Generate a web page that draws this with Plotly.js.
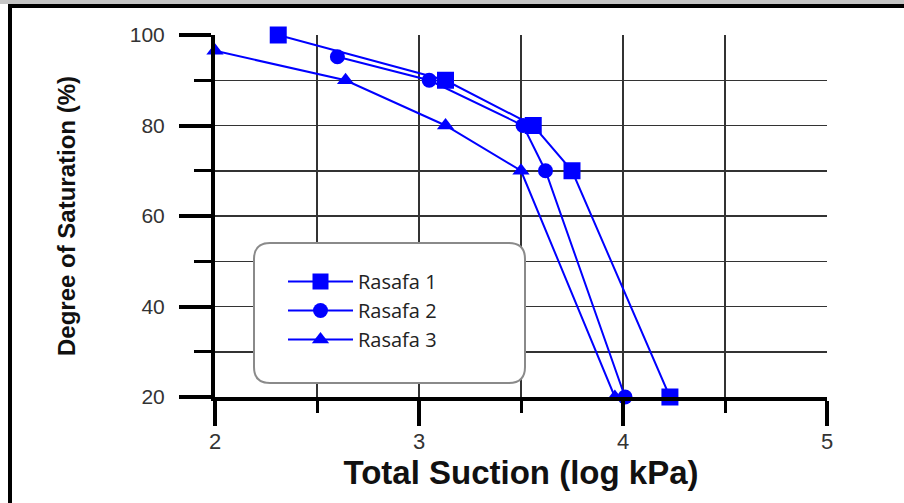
<!DOCTYPE html>
<html>
<head>
<meta charset="utf-8">
<script src="https://cdn.plot.ly/plotly-3.0.1.min.js"></script>
<style>
  html, body { margin: 0; padding: 0; background: #ffffff; }
  #chart { width: 904px; height: 503px; }
</style>
</head>
<body>
<div id="chart"></div>
<script>
// ---- data ----
const seriesNames = ["Rasafa 1", "Rasafa 2", "Rasafa 3"];
const suction1 = [2.31, 3.13, 3.56, 3.75, 4.23];
const saturation1 = [100, 90, 80, 70, 20];
const suction2 = [2.60, 3.05, 3.51, 3.62, 4.01];
const saturation2 = [95.2, 90, 80, 70, 20];
const suction3 = [2.00, 2.64, 3.13, 3.50, 3.96];
const saturation3 = [96.5, 90, 80, 70, 20];
const xTickVals = [2, 3, 4, 5];
const yTickVals = [20, 40, 60, 80, 100];

// ---- layout geometry (pixels) ----
const W = 904, H = 503;
const M = { l: 215, r: 77, t: 35, b: 106 };
const PW = W - M.l - M.r, PH = H - M.t - M.b;
const px = x => (x - M.l) / PW;       // pixel -> paper x
const py = y => (H - M.b - y) / PH;   // pixel -> paper y

const blue = "#0000ff";
function trace(x, y, name, symbol, size) {
  return {
    type: "scatter", mode: "lines+markers", x: x, y: y, name: name,
    line: { color: blue, width: 2 },
    marker: { color: blue, symbol: symbol, size: size },
    cliponaxis: false
  };
}
const data = [
  trace(suction1, saturation1, seriesNames[0], "square", 17),
  trace(suction2, saturation2, seriesNames[1], "circle", 15),
  trace(suction3, saturation3, seriesNames[2], "triangle-up", 15)
];

// rounded rectangle for the legend box
function roundRect(x0, y0, x1, y1, r) {
  const X0 = px(x0), X1 = px(x1), Y0 = py(y0), Y1 = py(y1);
  const rx = r / PW, ry = r / PH;
  return `M ${X0 + rx},${Y0} L ${X1 - rx},${Y0} Q ${X1},${Y0} ${X1},${Y0 - ry} ` +
         `L ${X1},${Y1 + ry} Q ${X1},${Y1} ${X1 - rx},${Y1} ` +
         `L ${X0 + rx},${Y1} Q ${X0},${Y1} ${X0},${Y1 + ry} ` +
         `L ${X0},${Y0 - ry} Q ${X0},${Y0} ${X0 + rx},${Y0} Z`;
}

const shapes = [
  // light strip and black frame lines of the figure
  { type: "rect", xref: "paper", yref: "paper", x0: px(0), x1: px(W), y0: py(0), y1: py(4),
    fillcolor: "#c4c4c4", line: { width: 0 }, layer: "below" },
  { type: "rect", xref: "paper", yref: "paper", x0: px(8), x1: px(W), y0: py(4), y1: py(8),
    fillcolor: "#000000", line: { width: 0 }, layer: "below" },
  { type: "rect", xref: "paper", yref: "paper", x0: px(8), x1: px(12), y0: py(4), y1: py(H),
    fillcolor: "#000000", line: { width: 0 }, layer: "below" },
  // legend box
  { type: "path", xref: "paper", yref: "paper", path: roundRect(254, 243, 525, 383, 16),
    fillcolor: "#ffffff", line: { color: "#8a8a8a", width: 2 }, layer: "above" }
];

const layout = {
  width: W, height: H,
  margin: M,
  paper_bgcolor: "#ffffff", plot_bgcolor: "#ffffff",
  showlegend: true,
  legend: {
    x: px(283), y: py(262), xanchor: "left", yanchor: "top",
    bgcolor: "rgba(0,0,0,0)", borderwidth: 0,
    font: { family: "Open Sans, sans-serif", size: 20, color: "#222222" },
    itemwidth: 65, tracegroupgap: 0
  },
  xaxis: {
    range: [2, 5], tickvals: xTickVals, ticktext: xTickVals.map(String),
    ticks: "outside", ticklen: 25, tickwidth: 4, tickcolor: "#000000",
    showline: true, linecolor: "#000000", linewidth: 4,
    showgrid: true, gridcolor: "#333333", gridwidth: 1.5,
    minor: { dtick: 0.5, ticks: "outside", ticklen: 12, tickwidth: 3, tickcolor: "#000000",
             showgrid: true, gridcolor: "#333333", gridwidth: 1.5 },
    zeroline: false, ticklabelstandoff: -3,
    tickfont: { family: "Liberation Sans, Arial, sans-serif", size: 22, color: "#333333" },
    title: { text: "Total Suction (log kPa)", standoff: 0,
             font: { family: "Liberation Sans, Arial, sans-serif", size: 33, color: "#111111", weight: "bold" } }
  },
  yaxis: {
    range: [20, 100], tickvals: yTickVals, ticktext: yTickVals.map(String),
    ticks: "outside", ticklen: 32, tickwidth: 4, tickcolor: "#000000",
    showline: true, linecolor: "#000000", linewidth: 4,
    showgrid: true, gridcolor: "#333333", gridwidth: 1.5,
    minor: { dtick: 10, ticks: "outside", ticklen: 17, tickwidth: 3, tickcolor: "#000000",
             showgrid: true, gridcolor: "#333333", gridwidth: 1.5 },
    zeroline: false, ticklabelstandoff: 10,
    tickfont: { family: "Liberation Sans, Arial, sans-serif", size: 21, color: "#333333" },
    title: { text: "Degree of Saturation (%)", standoff: 48,
             font: { family: "Liberation Sans, Arial, sans-serif", size: 24, color: "#111111", weight: "bold" } }
  },
  shapes: shapes
};

Plotly.newPlot("chart", data, layout, { displayModeBar: false, staticPlot: true });
</script>
</body>
</html>
